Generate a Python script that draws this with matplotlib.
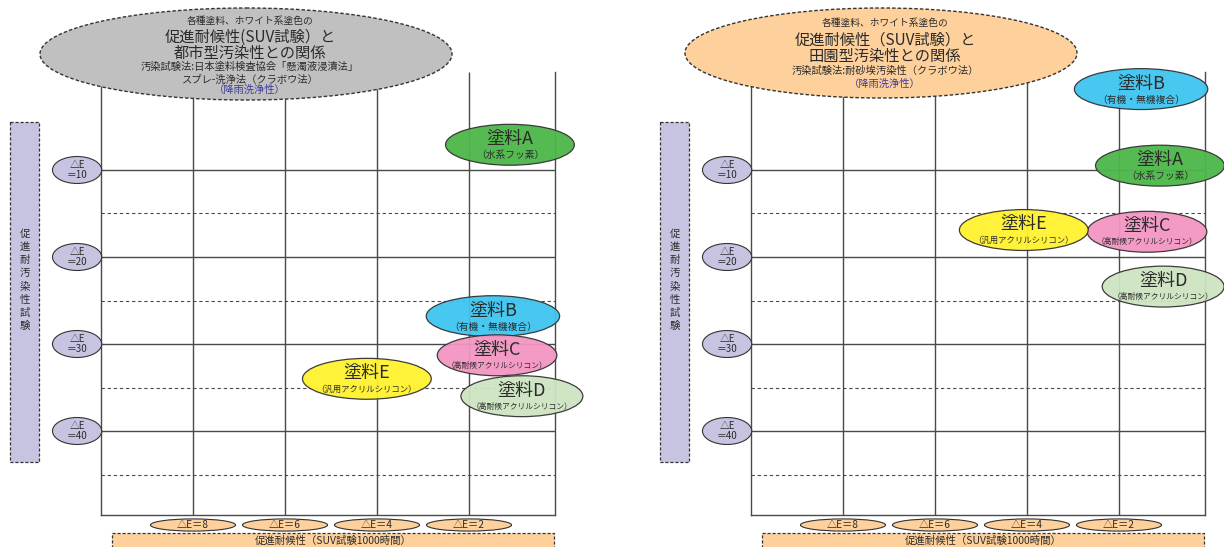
import matplotlib
matplotlib.use('Agg')
import matplotlib.pyplot as plt
from matplotlib.patches import Ellipse, Rectangle

plt.rcParams['font.family'] = ['Noto Sans CJK JP', 'DejaVu Sans']

# data
paints = ['塗料A', '塗料B', '塗料C', '塗料D', '塗料E']
paint_types = ['（水系フッ素）', '（有機・無機複合）', '（高耐候アクリルシリコン）',
               '（高耐候アクリルシリコン）', '（汎用アクリルシリコン）']
urban_weather = [1.11, 1.48, 1.39, 0.85, 4.22]   # SUV ΔE
urban_stain = [7.1, 26.8, 31.3, 36.0, 34.0]      # stain ΔE
rural_weather = [1.11, 1.52, 1.39, 1.04, 4.07]
rural_stain = [9.5, 0.7, 17.1, 23.4, 16.9]

weather_ticks = [8, 6, 4, 2]
stain_ticks = [10, 20, 30, 40]
stain_half = [15, 25, 35, 45]

urban_title = ['各種塗料、ホワイト系塗色の', '促進耐候性(SUV試験）と', '都市型汚染性との関係',
               '汚染試験法:日本塗料検査協会「懸濁液浸漬法」', 'スプレ-洗浄法（クラボウ法）', '（降雨洗浄性）']
rural_title = ['各種塗料、ホワイト系塗色の', '促進耐候性（SUV試験）と', '田園型汚染性との関係',
               '汚染試験法:耐砂埃汚染性（クラボウ法）', '（降雨洗浄性）']

# styles
fills = ['#4cb748', '#3ec4f0', '#f396c2', '#cde4c1', '#fff22e']
ell_w = [2.8, 2.9, 2.6, 2.65, 2.8]   # in weather units
ell_h = 4.7                          # in stain units
sub_fs = [7, 7, 5.6, 5.6, 6.0]
line_c = '#4a4a4a'
text_c = '#2b2b2b'
lav = '#c7c4e1'
peach = '#fdd09c'

W, H = 1224, 547
PX_X = 46.0   # px per weather unit
PX_Y = 8.7    # px per stain unit

fig = plt.figure(figsize=(W / 100, H / 100), dpi=100)


def make_panel(x0, weather, stain):
    left, right, top, bottom = x0, x0 + 454, 72, 515
    ax = fig.add_axes([left / W, 1 - bottom / H, (right - left) / W, (bottom - top) / H])
    ax.set_xlim(10, 10 - (right - left) / PX_X)
    ax.set_ylim(10 + (bottom - 170) / PX_Y, 10 - (170 - top) / PX_Y)
    ax.set_xticks([])
    ax.set_yticks([])
    ax.patch.set_alpha(0)
    ax.spines['top'].set_visible(False)
    for s in ['left', 'right', 'bottom']:
        ax.spines[s].set_color(line_c)
        ax.spines[s].set_linewidth(1.0)
    y0, y1 = ax.get_ylim()
    ax.vlines(weather_ticks, y1, y0, color=line_c, lw=1.0, zorder=1)
    ax.hlines(stain_ticks, 10, ax.get_xlim()[1], color=line_c, lw=1.0, zorder=1)
    ax.hlines(stain_half, 10, ax.get_xlim()[1], color=line_c, lw=0.8,
              linestyles=(0, (3, 2.5)), zorder=1)

    # tick label ellipses
    for v in stain_ticks:
        ax.add_patch(Ellipse((10.52, v), 1.07, 3.1, fc=lav, ec='#333333', lw=0.8,
                             clip_on=False, zorder=3))
        ax.text(10.52, v, '△E\n＝%d' % v, ha='center', va='center', fontsize=7,
                color=text_c, linespacing=0.95, clip_on=False, zorder=4)
    for v in weather_ticks:
        yb = 10 + (525 - 170) / PX_Y
        ax.add_patch(Ellipse((v, yb), 1.85, 1.4, fc=peach, ec='#333333', lw=0.8,
                             clip_on=False, zorder=3))
        ax.text(v, yb, '△E＝%d' % v, ha='center', va='center', fontsize=7.3,
                color=text_c, clip_on=False, zorder=4)

    # paint ellipses
    for i in range(len(paints)):
        ax.add_patch(Ellipse((weather[i], stain[i]), ell_w[i], ell_h, fc=fills[i],
                             ec='#333333', lw=0.9, alpha=0.95, clip_on=False, zorder=5 + i))
        ax.annotate(paints[i], (weather[i], stain[i]), xytext=(0, 4), textcoords='offset points',
                    ha='center', va='center', fontsize=13, color=text_c,
                    annotation_clip=False, zorder=5 + i)
        ax.annotate(paint_types[i], (weather[i], stain[i]), xytext=(0, -7.5), textcoords='offset points',
                    ha='center', va='center', fontsize=sub_fs[i], color=text_c,
                    annotation_clip=False, zorder=5 + i)
    return ax


ax1 = make_panel(101, urban_weather, urban_stain)
ax2 = make_panel(751, rural_weather, rural_stain)

# overlay for the title bubbles and axis captions (pixel coords)
ov = fig.add_axes([0, 0, 1, 1])
ov.set_xlim(0, W)
ov.set_ylim(H, 0)
ov.axis('off')
ov.patch.set_alpha(0)

dash = (0, (2.5, 1.5))


def title_bubble(cx, cy, w, h, fc, lines, ys):
    ov.add_patch(Ellipse((cx, cy), w, h, fc=fc, ec='#333333', lw=1.0, ls=dash))
    for k, (t, y) in enumerate(zip(lines, ys)):
        big = k in (1, 2)
        col = '#3b3b9e' if t == '（降雨洗浄性）' else text_c
        ov.text(cx + 4, y, t, ha='center', va='center', fontsize=11 if big else (7 if k == 0 else 7.4),
                color=col)


title_bubble(246, 54, 412, 92, '#c0c0c0', urban_title, [21, 37, 53, 67, 80, 90])
title_bubble(881, 53, 392, 90, peach, rural_title, [23, 40, 56, 71, 84])

for x0 in (0, 650):
    # vertical caption box
    ov.add_patch(Rectangle((10 + x0, 122), 29, 340, fc=lav, ec='#333333', lw=0.9, ls=dash))
    ov.text(24.5 + x0, 280, '\n'.join('促進耐汚染性試験'), ha='center', va='center',
            fontsize=7.5, color=text_c, linespacing=1.38)
    # horizontal caption box
    ov.add_patch(Rectangle((112 + x0, 533), 442, 18, fc=peach, ec='#333333', lw=0.9, ls=dash))
    ov.text(333 + x0, 540.5, '促進耐候性（SUV試験1000時間）', ha='center', va='center',
            fontsize=7.5, color=text_c)

fig.savefig('out.png', dpi=100)
